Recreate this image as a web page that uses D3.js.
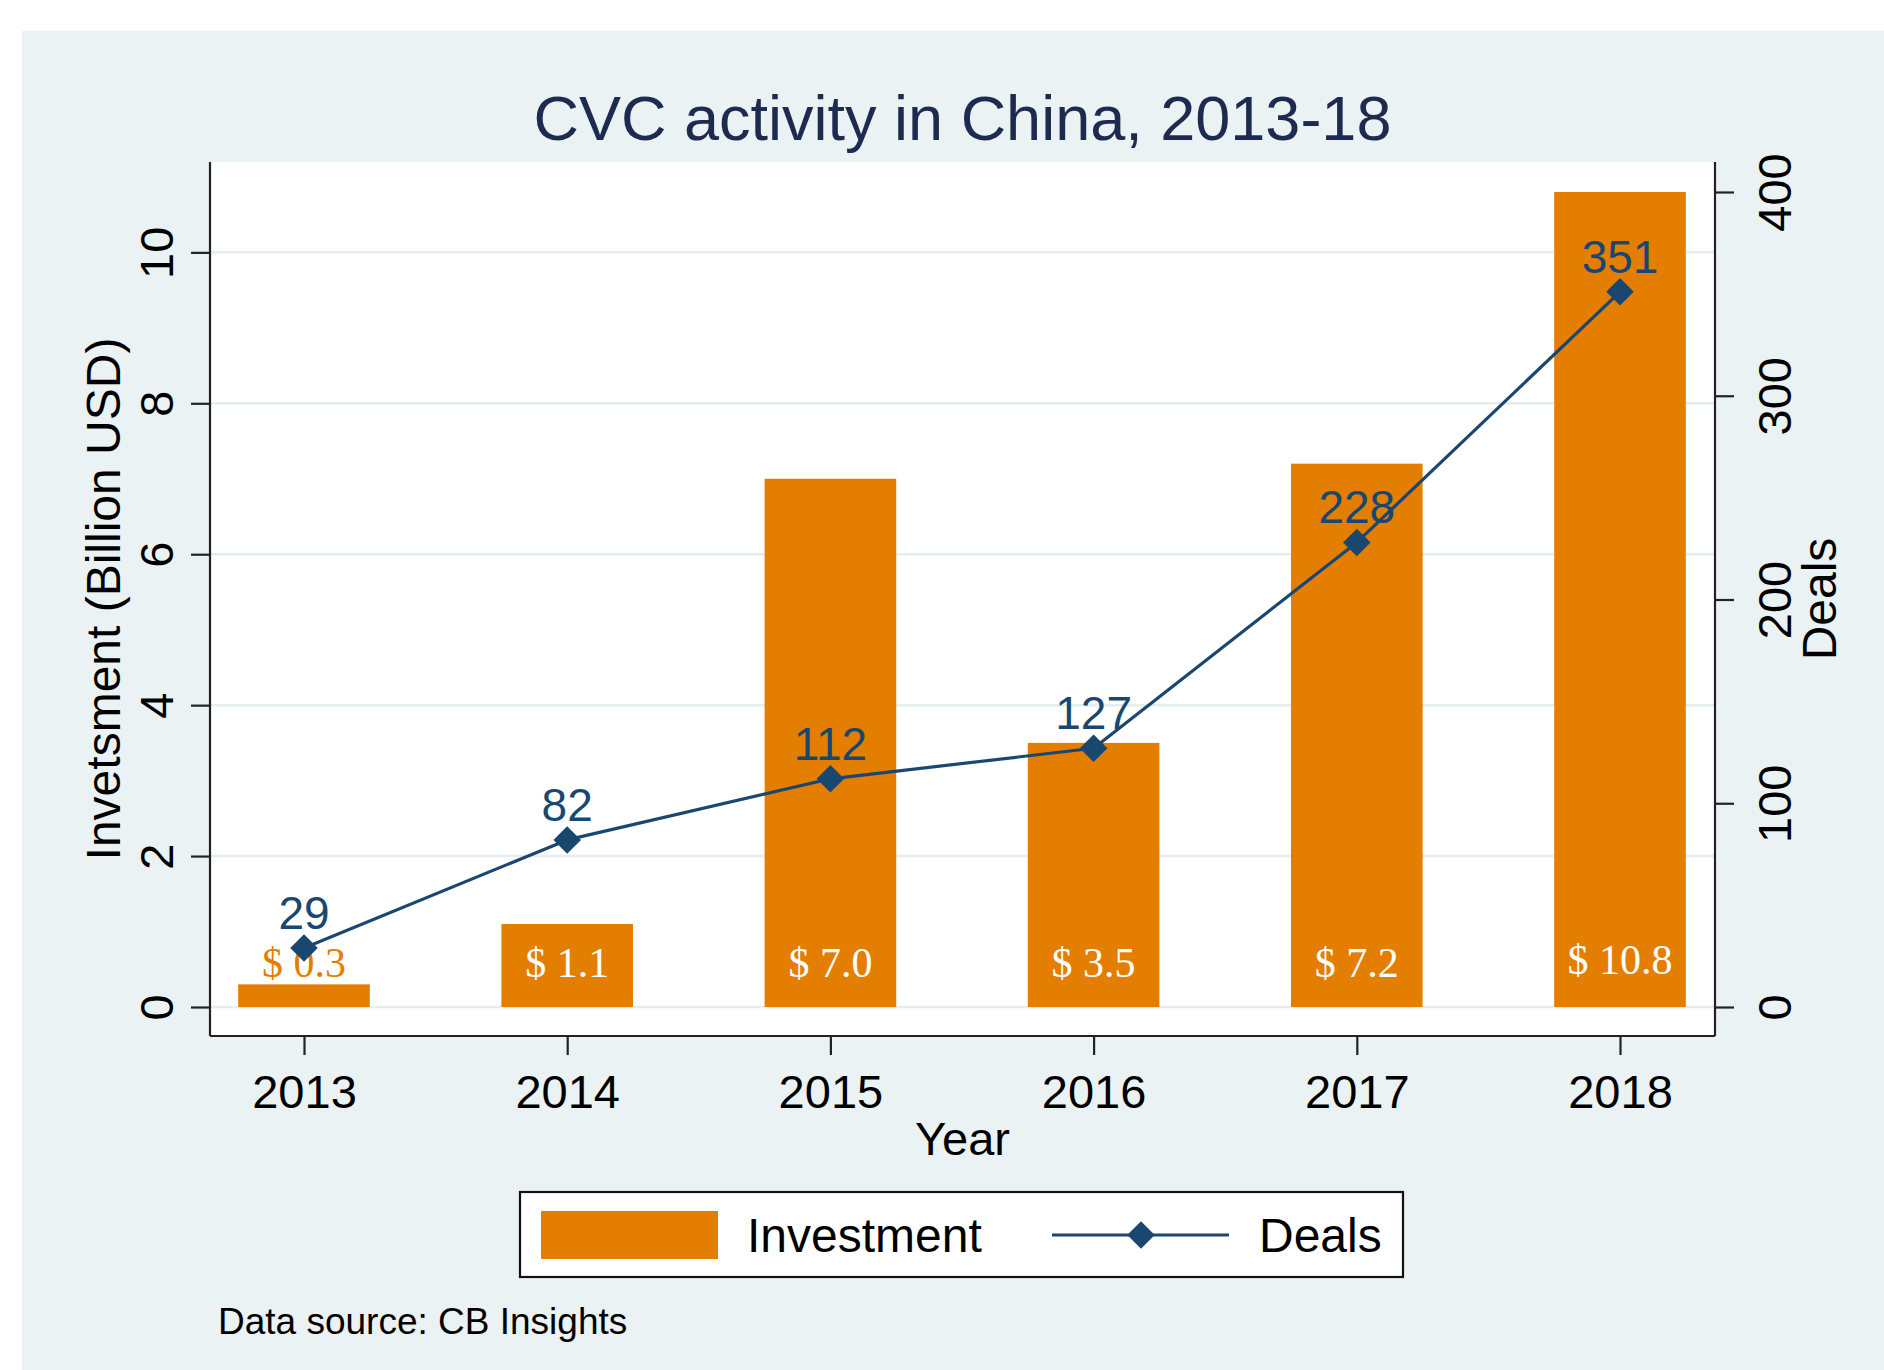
<!DOCTYPE html>
<html>
<head>
<meta charset="utf-8">
<script src="https://cdn.jsdelivr.net/npm/d3@7"></script>
<style>
  html, body { margin: 0; padding: 0; background: #ffffff; }
  svg { display: block; }
  text { font-family: "Liberation Sans", Arial, Helvetica, sans-serif; }
</style>
</head>
<body>
<div id="chart"></div>
<script>
// ---- data ----
const years = ["2013", "2014", "2015", "2016", "2017", "2018"];
const investment = [0.3, 1.1, 7.0, 3.5, 7.2, 10.8];   // billion USD
const deals = [29, 82, 112, 127, 228, 351];
const leftTicks = [0, 2, 4, 6, 8, 10];
const rightTicks = [0, 100, 200, 300, 400];

// ---- layout ----
const W = 1884, H = 1370;
const plot = { left: 210, right: 1715, top: 162, bottom: 1036 };
const zeroY = 1007, topY = 192;      // where 0 and the top of each axis range sit

const colors = {
  panel: "#eaf2f3",
  grid: "#e4edef",
  bar: "#e37e00",
  line: "#1a476f",
  title: "#1c2b4f",
  axis: "#222222"
};

const svg = d3.select("#chart").append("svg")
  .attr("width", W).attr("height", H);

// graph region background
svg.append("rect")
  .attr("x", 22).attr("y", 31)
  .attr("width", W - 22).attr("height", H - 31)
  .attr("fill", colors.panel);

// plot region
svg.append("rect")
  .attr("x", plot.left).attr("y", plot.top)
  .attr("width", plot.right - plot.left).attr("height", plot.bottom - plot.top)
  .attr("fill", "#ffffff");

// ---- scales ----
const x = d3.scalePoint().domain(years).range([304, 1620]);
const step = x.step();
const barW = step * 0.5;

const yL = d3.scaleLinear().domain([0, d3.max(investment)]).range([zeroY, topY]);
const yR = d3.scaleLinear().domain([0, d3.max(rightTicks)]).range([zeroY, topY]);

// ---- gridlines (left axis ticks) ----
svg.append("g").selectAll("line")
  .data(leftTicks).join("line")
  .attr("x1", plot.left).attr("x2", plot.right)
  .attr("y1", d => yL(d)).attr("y2", d => yL(d))
  .attr("stroke", colors.grid).attr("stroke-width", 2.5);

// ---- bars ----
svg.append("g").selectAll("rect")
  .data(investment).join("rect")
  .attr("x", (d, i) => x(years[i]) - barW / 2)
  .attr("width", barW)
  .attr("y", d => yL(d))
  .attr("height", d => yL(0) - yL(d))
  .attr("fill", colors.bar);

// investment value labels near the bar base
svg.append("g").selectAll("text")
  .data(investment).join("text")
  .attr("x", (d, i) => x(years[i]))
  .attr("y", (d, i) => yL(0) - (d > 10 ? 33 : 30))
  .attr("text-anchor", "middle")
  .style("font-family", "'Liberation Serif', 'Times New Roman', serif")
  .style("font-size", "42px")
  .attr("fill", d => (yL(0) - yL(d) > 40 ? "#ffffff" : colors.bar))
  .text(d => "$ " + d3.format(".1f")(d));

// ---- deals line ----
const line = d3.line()
  .x((d, i) => x(years[i]))
  .y(d => yR(d));

svg.append("path")
  .datum(deals)
  .attr("d", line)
  .attr("fill", "none")
  .attr("stroke", colors.line)
  .attr("stroke-width", 3.2)
  .attr("stroke-linejoin", "round");

const diamond = d3.symbol().type(d3.symbolSquare).size(380);

svg.append("g").selectAll("path")
  .data(deals).join("path")
  .attr("d", diamond)
  .attr("transform", (d, i) => `translate(${x(years[i])},${yR(d)}) rotate(45)`)
  .attr("fill", colors.line);

svg.append("g").selectAll("text")
  .data(deals).join("text")
  .attr("x", (d, i) => x(years[i]))
  .attr("y", d => yR(d) - 19)
  .attr("text-anchor", "middle")
  .style("font-size", "46px")
  .attr("fill", colors.line)
  .text(d => d);

// ---- axes ----
const tickLen = 19;

// left axis
const leftAxis = svg.append("g").attr("transform", `translate(${plot.left},0)`)
  .call(d3.axisLeft(yL).tickValues(leftTicks).tickSize(tickLen).tickPadding(18));
leftAxis.select(".domain")
  .attr("d", `M0,${plot.top}V${plot.bottom}`);

// right axis
const rightAxis = svg.append("g").attr("transform", `translate(${plot.right},0)`)
  .call(d3.axisRight(yR).tickValues(rightTicks).tickSize(tickLen).tickPadding(18));
rightAxis.select(".domain")
  .attr("d", `M0,${plot.top}V${plot.bottom}`);

// bottom axis
const bottomAxis = svg.append("g").attr("transform", `translate(0,${plot.bottom})`)
  .call(d3.axisBottom(x).tickSize(tickLen).tickPadding(20));
bottomAxis.select(".domain")
  .attr("d", `M${plot.left},0H${plot.right}`);

[leftAxis, rightAxis, bottomAxis].forEach(g => {
  g.select(".domain").attr("stroke", colors.axis).attr("stroke-width", 2.2);
  g.selectAll(".tick line").attr("stroke", colors.axis).attr("stroke-width", 2.2);
  g.selectAll(".tick text")
    .attr("fill", "#000000")
    .style("font-family", "'Liberation Sans', Arial, sans-serif")
    .style("font-size", "47px");
});

// rotate the vertical axis tick labels so they read upward
leftAxis.selectAll(".tick text")
  .attr("x", null).attr("dy", null)
  .attr("text-anchor", "middle")
  .attr("transform", `translate(${-(tickLen + 18)},0) rotate(-90)`);

rightAxis.selectAll(".tick text")
  .attr("x", null).attr("dy", null)
  .attr("text-anchor", "middle")
  .attr("transform", `translate(${1791 - plot.right},0) rotate(-90)`);

bottomAxis.selectAll(".tick text").attr("dy", "0.71em");

// ---- titles ----
svg.append("text")
  .attr("x", (plot.left + plot.right) / 2).attr("y", 140)
  .attr("text-anchor", "middle")
  .attr("fill", colors.title)
  .style("font-size", "63px")
  .text("CVC activity in China, 2013-18");

svg.append("text")
  .attr("transform", `translate(120,${(plot.top + plot.bottom) / 2}) rotate(-90)`)
  .attr("text-anchor", "middle")
  .style("font-size", "48px")
  .text("Invetsment (Billion USD)");

svg.append("text")
  .attr("transform", `translate(1836,${(plot.top + plot.bottom) / 2}) rotate(-90)`)
  .attr("text-anchor", "middle")
  .style("font-size", "48px")
  .text("Deals");

svg.append("text")
  .attr("x", (plot.left + plot.right) / 2).attr("y", 1155)
  .attr("text-anchor", "middle")
  .style("font-size", "47px")
  .text("Year");

// ---- legend ----
const legend = svg.append("g");
legend.append("rect")
  .attr("x", 520).attr("y", 1192)
  .attr("width", 883).attr("height", 85)
  .attr("fill", "#ffffff")
  .attr("stroke", "#111111").attr("stroke-width", 2.2);

legend.append("rect")
  .attr("x", 541).attr("y", 1211)
  .attr("width", 177).attr("height", 48)
  .attr("fill", colors.bar);

legend.append("text")
  .attr("x", 747).attr("y", 1252)
  .style("font-size", "48px")
  .text("Investment");

legend.append("line")
  .attr("x1", 1052).attr("x2", 1229)
  .attr("y1", 1235).attr("y2", 1235)
  .attr("stroke", colors.line).attr("stroke-width", 3.2);

legend.append("path")
  .attr("d", diamond)
  .attr("transform", "translate(1141,1235) rotate(45)")
  .attr("fill", colors.line);

legend.append("text")
  .attr("x", 1259).attr("y", 1252)
  .style("font-size", "48px")
  .text("Deals");

// ---- note ----
svg.append("text")
  .attr("x", 218).attr("y", 1334)
  .style("font-size", "37px")
  .text("Data source: CB Insights");
</script>
</body>
</html>
